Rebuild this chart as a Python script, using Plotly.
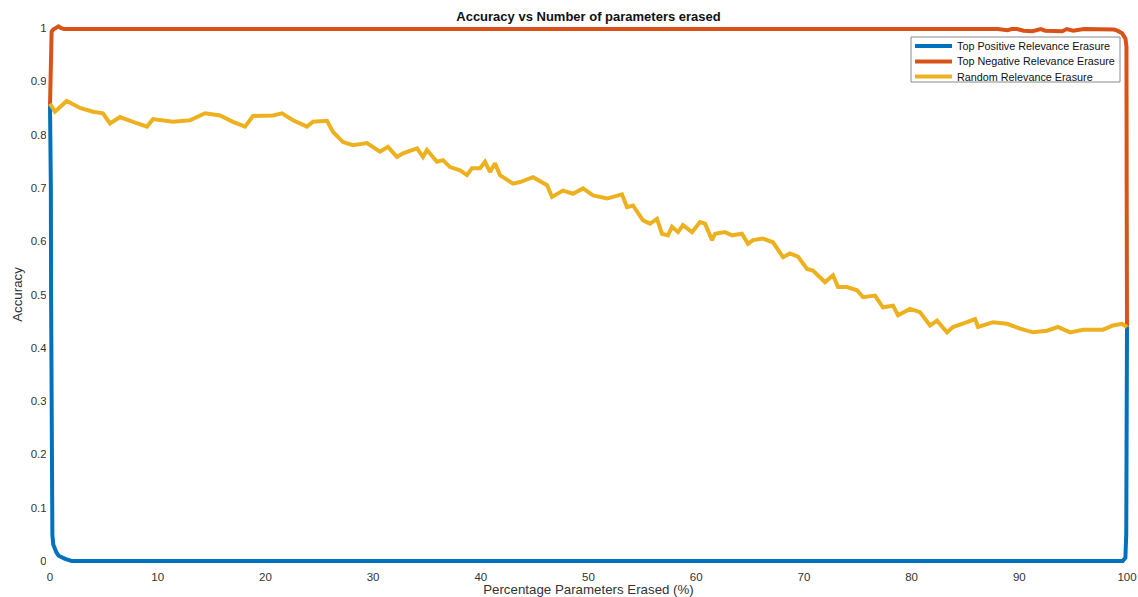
import plotly.graph_objects as go

# ---------------- data ----------------
series_names = ["Top Positive Relevance Erasure",
                "Top Negative Relevance Erasure",
                "Random Relevance Erasure"]

pos_x = [0, 0.05, 0.08, 0.1, 0.12, 0.16, 0.22, 0.3, 0.45, 0.6, 0.8, 1.1, 1.4, 1.55, 1.8, 2.0,
         99.6, 99.85, 99.93, 99.97, 100]
pos_y = [0.855, 0.78, 0.7, 0.5, 0.3, 0.1, 0.05, 0.031, 0.022, 0.016, 0.01, 0.006, 0.004, 0.003, 0.002, 0.0,
         0.0, 0.006, 0.05, 0.2, 0.44]

neg_x = [0, 0.03, 0.08, 0.15, 0.3, 0.6, 0.8, 1.0, 1.3, 10, 20, 30, 40, 50, 60, 70, 80, 85, 88,
         88.9, 89.3, 89.8, 90.4, 91.2, 92.0, 92.4, 93.0, 94.0, 94.4, 95.0, 96, 97, 98, 98.8,
         99.1, 99.55, 99.86, 99.95, 99.97, 100]
neg_y = [0.855, 0.9, 0.97, 0.993, 0.997, 1.0, 1.003, 1.0, 0.998, 0.998, 0.998, 0.998, 0.998, 0.998,
         0.998, 0.998, 0.998, 0.998, 0.998,
         0.996, 0.998, 0.998, 0.995, 0.994, 0.998, 0.995, 0.994, 0.994, 0.998, 0.995, 0.998, 0.998, 0.998, 0.997,
         0.995, 0.99, 0.98, 0.965, 0.7, 0.44]

rnd_x = [0, 0.46, 1.55, 2.79, 3.99, 4.92, 5.57, 6.50, 7.71, 9.01, 9.56, 11.42, 13.0, 14.39, 15.78,
         16.99, 18.11, 18.85, 20.71, 21.54, 22.56, 23.86, 24.42, 25.72, 26.28, 27.21, 28.13, 29.43,
         30.64, 31.38, 32.22, 32.78, 34.08, 34.63, 35.0, 35.93, 36.49, 37.14, 38.07, 38.72, 39.18,
         39.93, 40.39, 40.85, 41.32, 41.78, 42.99, 43.64, 44.85, 46.15, 46.61, 47.63, 48.56, 49.49,
         50.42, 51.72, 53.11, 53.57, 54.13, 55.06, 55.71, 56.36, 56.82, 57.38, 57.75, 58.31, 58.77,
         59.61, 60.35, 60.82, 61.47, 61.75, 62.67, 63.32, 64.25, 64.81, 65.27, 66.20, 67.13, 68.06,
         68.71, 69.45, 70.29, 70.84, 71.96, 72.70, 73.17, 74.00, 74.93, 75.49, 76.60, 77.34, 78.27,
         78.74, 79.85, 80.78, 81.71, 82.36, 83.29, 83.84, 85.14, 85.89, 86.17, 87.56, 88.86, 90.06,
         91.27, 92.57, 93.59, 94.71, 95.91, 97.77, 98.70, 99.54, 100]
rnd_y = [0.858, 0.843, 0.863, 0.85, 0.843, 0.84, 0.821, 0.833, 0.824, 0.815, 0.829, 0.824, 0.827,
         0.84, 0.836, 0.824, 0.815, 0.835, 0.836, 0.84, 0.827, 0.815, 0.824, 0.826, 0.805, 0.786,
         0.78, 0.784, 0.768, 0.777, 0.758, 0.765, 0.774, 0.758, 0.771, 0.749, 0.752, 0.739, 0.733,
         0.724, 0.737, 0.737, 0.749, 0.73, 0.746, 0.724, 0.708, 0.711, 0.72, 0.705, 0.683, 0.695,
         0.689, 0.699, 0.686, 0.68, 0.688, 0.664, 0.667, 0.639, 0.633, 0.642, 0.614, 0.611, 0.627,
         0.617, 0.63, 0.617, 0.636, 0.633, 0.602, 0.614, 0.617, 0.611, 0.614, 0.595, 0.602, 0.605,
         0.598, 0.57, 0.577, 0.571, 0.548, 0.545, 0.523, 0.536, 0.514, 0.514, 0.508, 0.495, 0.498,
         0.476, 0.479, 0.461, 0.473, 0.467, 0.442, 0.451, 0.429, 0.439, 0.448, 0.454, 0.439, 0.448,
         0.445, 0.436, 0.429, 0.432, 0.439, 0.429, 0.434, 0.434, 0.442, 0.445, 0.439]

x_ticks = [0, 10, 20, 30, 40, 50, 60, 70, 80, 90, 100]
y_ticks = [0, 0.1, 0.2, 0.3, 0.4, 0.5, 0.6, 0.7, 0.8, 0.9, 1]
y_tick_text = ["0", "0.1", "0.2", "0.3", "0.4", "0.5", "0.6", "0.7", "0.8", "0.9", "1"]

colors = ["#0072BD", "#D95319", "#EDB120"]

# ---------------- layout geometry ----------------
W, H = 1138, 597
BOX_L, BOX_R, BOX_T, BOX_B = 50, 1127, 28, 561   # visible axes box (pixels)
PAD = 4                                          # room so thick lines aren't clipped
ml, mr, mt, mb = BOX_L - PAD, W - BOX_R - PAD, BOX_T - PAD, H - BOX_B - PAD
pw, ph = W - ml - mr, H - mt - mb
xppu = (BOX_R - BOX_L) / 100.0
yppu = (BOX_B - BOX_T) / 1.0


def px_x(p):  # pixel -> paper x
    return (p - ml) / pw


def px_y(p):  # pixel -> paper y
    return (H - mb - p) / ph


font = "Liberation Sans, Arial, Helvetica, sans-serif"

fig = go.Figure()
for name, xs, ys, c in zip(series_names, [pos_x, neg_x, rnd_x], [pos_y, neg_y, rnd_y], colors):
    fig.add_trace(go.Scatter(x=xs, y=ys, mode="lines", name=name, showlegend=False,
                             line=dict(color=c, width=4), xaxis="x2", yaxis="y2"))

axis_common = dict(showline=True, linecolor="#8a8a8a", linewidth=1, mirror="ticks",
                   ticks="inside", ticklen=5, tickcolor="#555555", tickwidth=1,
                   showgrid=False, zeroline=False, automargin=False,
                   tickfont=dict(family=font, size=11.5, color="#333333"))

fig.update_layout(
    width=W, height=H,
    margin=dict(l=ml, r=mr, t=mt, b=mb, pad=0, autoexpand=False),
    paper_bgcolor="white", plot_bgcolor="white",
    font=dict(family=font, color="#262626"),
    title=dict(text="<b>Accuracy vs Number of parameters erased</b>",
               x=(BOX_L + BOX_R) / 2 / W, xanchor="center",
               y=1 - 16.5 / H, yanchor="middle", yref="container",
               font=dict(family=font, size=13, color="#111111"), automargin=False),
    xaxis=dict(domain=[PAD / pw, (pw - PAD) / pw], range=[0, 100],
               tickvals=x_ticks, anchor="y", ticklabelstandoff=5,
               title=dict(text="Percentage Parameters Erased (%)", standoff=3,
                          font=dict(family=font, size=13.3, color="#333333")),
               **axis_common),
    yaxis=dict(domain=[PAD / ph, (ph - PAD) / ph], range=[0, 1],
               tickvals=y_ticks, ticktext=y_tick_text, anchor="x",
               title=dict(text="Accuracy", standoff=5,
                          font=dict(family=font, size=13.3, color="#333333")),
               **axis_common),
    xaxis2=dict(domain=[0, 1], range=[-PAD / xppu, 100 + PAD / xppu], visible=False,
                anchor="y2", showgrid=False, zeroline=False),
    yaxis2=dict(domain=[0, 1], range=[-PAD / yppu, 1 + PAD / yppu], visible=False,
                anchor="x2", showgrid=False, zeroline=False),
    showlegend=False,
)
fig.add_trace(go.Scatter(x=[], y=[], xaxis="x", yaxis="y", showlegend=False))

# ---------------- compact MATLAB-style legend ----------------
LEG_L, LEG_R, LEG_T, LEG_B = 911, 1120, 37, 82
row_y = [46, 61.5, 76.5]
fig.add_shape(type="rect", xref="paper", yref="paper",
              x0=px_x(LEG_L), x1=px_x(LEG_R), y0=px_y(LEG_B), y1=px_y(LEG_T),
              line=dict(color="#8a8a8a", width=1), fillcolor="white", layer="above")
for name, c, ry in zip(series_names, colors, row_y):
    fig.add_shape(type="line", xref="paper", yref="paper",
                  x0=px_x(915), x1=px_x(952), y0=px_y(ry), y1=px_y(ry),
                  line=dict(color=c, width=4), layer="above")
    fig.add_annotation(text=name, xref="paper", yref="paper", x=px_x(955), y=px_y(ry),
                       xanchor="left", yanchor="middle", showarrow=False,
                       font=dict(family=font, size=10.8, color="#111111"))

fig.write_html("out.html")
